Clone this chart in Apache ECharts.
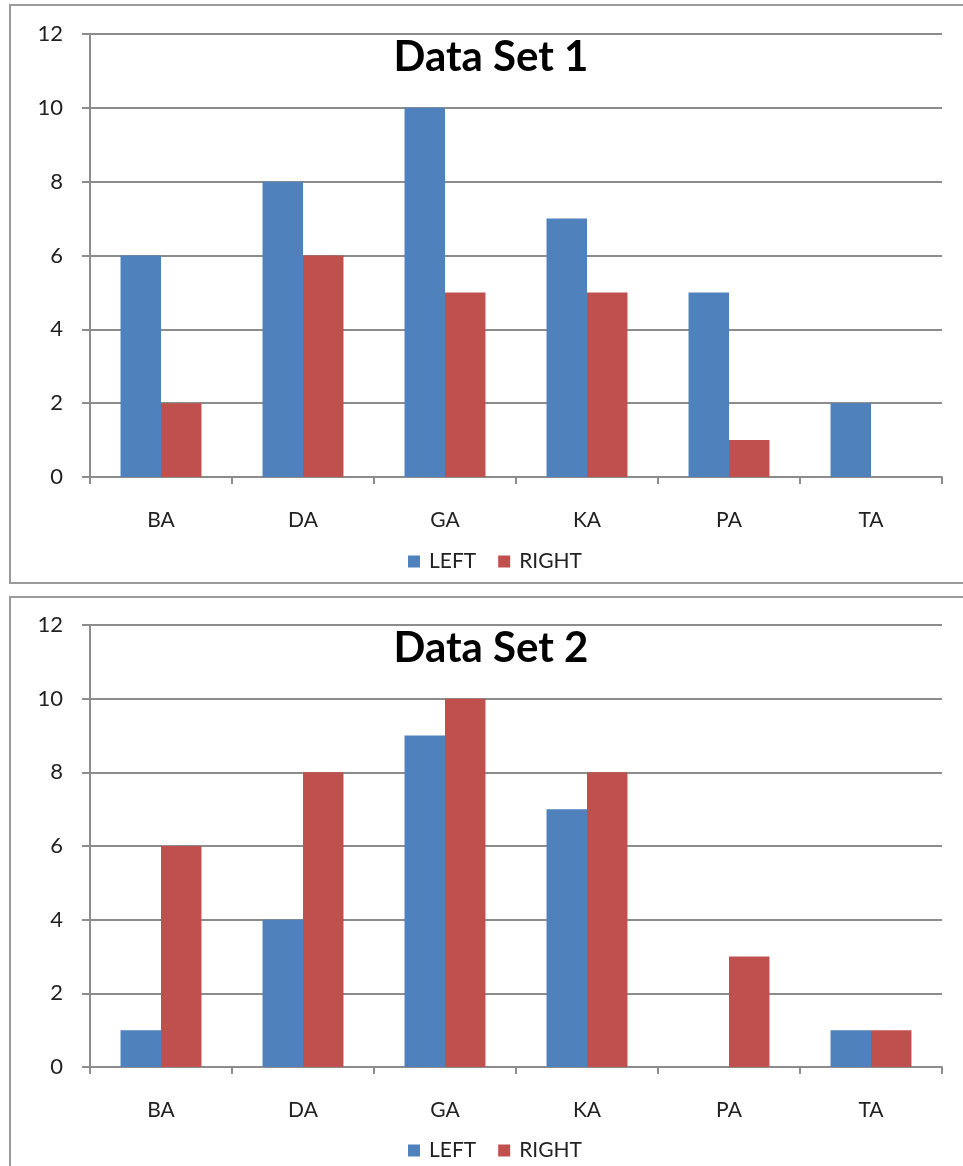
<!DOCTYPE html>
<html>
<head>
<meta charset="utf-8">
<script src="https://cdn.jsdelivr.net/npm/echarts@6/dist/echarts.min.js"></script>
<style>
  html, body { margin: 0; padding: 0; background: #fff; }
  #chart { width: 963px; height: 1166px; }
</style>
</head>
<body>
<div id="chart"></div>
<script>
// Categories and per-panel counts
const categories = ['BA', 'DA', 'GA', 'KA', 'PA', 'TA'];
const seriesNames = ['LEFT', 'RIGHT'];
const set1Left = [6, 8, 10, 7, 5, 2];
const set1Right = [2, 6, 5, 5, 1, 0];
const set2Left = [1, 4, 9, 7, 0, 1];
const set2Right = [6, 8, 10, 8, 3, 1];
const panelTitles = ['Data Set 1', 'Data Set 2'];
const yTicks = { min: 0, max: 12, interval: 2 };

const BLUE = '#4F81BD';
const RED = '#C0504D';
const FONT = 'Lato, "Open Sans", sans-serif';

const panels = [
  { top: 34, bottom: 477, left: set1Left, right: set1Right, boxTop: 5, boxH: 578, legendTop: 546 },
  { top: 625, bottom: 1067, left: set2Left, right: set2Right, boxTop: 597, boxH: 600, legendTop: 1135 }
];

const chart = echarts.init(document.getElementById('chart'), null, { renderer: 'canvas' });

const option = {
  animation: false,
  backgroundColor: '#fff',
  color: [BLUE, RED],
  textStyle: { fontFamily: FONT },
  title: panels.map((p, i) => ({
    text: panelTitles[i],
    left: 486,
    textAlign: 'center',
    top: p.top - 3,
    textStyle: { fontFamily: FONT, fontWeight: 'bold', fontSize: 42, color: '#000' }
  })),
  legend: panels.map((p, i) => ({
    data: seriesNames,
    left: 403,
    top: p.legendTop,
    orient: 'horizontal',
    itemWidth: 12,
    itemHeight: 12,
    itemGap: 22,
    icon: 'rect',
    textStyle: { fontFamily: FONT, fontSize: 21, color: '#222', padding: [0, 0, 0, 4] }
  })),
  graphic: panels.map(p => ({
    type: 'rect',
    shape: { x: 10, y: p.boxTop, width: 970, height: p.boxH },
    style: { fill: 'none', stroke: '#9a9a9a', lineWidth: 2 },
    z: -1,
    silent: true
  })),
  grid: panels.map(p => ({
    left: 90,
    right: 963 - 942,
    top: p.top,
    height: p.bottom - p.top,
    containLabel: false
  })),
  xAxis: panels.map((p, i) => ({
    type: 'category',
    gridIndex: i,
    data: categories,
    axisLine: { lineStyle: { color: '#8c8c8c', width: 2 } },
    axisTick: { show: true, length: 7, alignWithLabel: false, lineStyle: { color: '#8c8c8c', width: 2 } },
    axisLabel: { fontFamily: FONT, fontSize: 21, color: '#222', margin: 33 }
  })),
  yAxis: panels.map((p, i) => ({
    type: 'value',
    gridIndex: i,
    min: yTicks.min,
    max: yTicks.max,
    interval: yTicks.interval,
    axisLine: { show: true, lineStyle: { color: '#8c8c8c', width: 2 } },
    axisTick: { show: true, length: 8, lineStyle: { color: '#8c8c8c', width: 2 } },
    axisLabel: { fontFamily: FONT, fontSize: 22, color: '#222', margin: 27 },
    splitLine: { show: true, lineStyle: { color: '#8c8c8c', width: 2 } }
  })),
  series: panels.flatMap((p, i) => [
    {
      name: seriesNames[0], type: 'bar', xAxisIndex: i, yAxisIndex: i,
      data: p.left, barGap: '0%', barCategoryGap: '43%',
      itemStyle: { color: BLUE }
    },
    {
      name: seriesNames[1], type: 'bar', xAxisIndex: i, yAxisIndex: i,
      data: p.right, barGap: '0%', barCategoryGap: '43%',
      itemStyle: { color: RED }
    }
  ])
};

chart.setOption(option);
</script>
</body>
</html>
